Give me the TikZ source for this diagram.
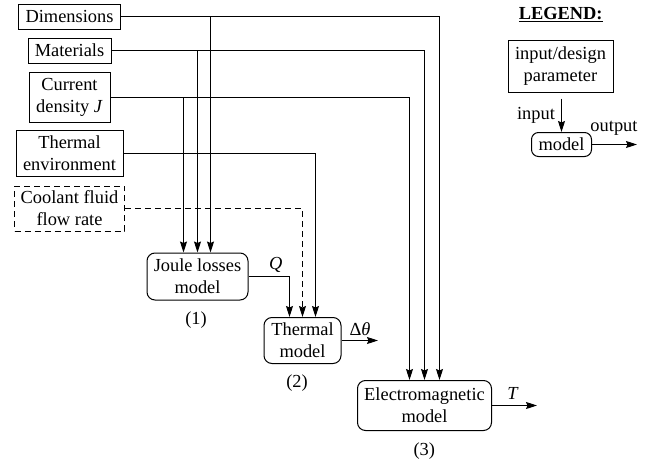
\documentclass[tikz,border=0pt]{standalone}
\usepackage{fontspec}
\setmainfont{Liberation Serif}
\usetikzlibrary{arrows.meta}
\begin{document}
\begin{tikzpicture}[x=1pt,y=-1pt,
  font=\fontsize{18.4}{22}\selectfont,
  line width=1pt,
  param/.style={draw, inner sep=0pt, align=center},
  coolbox/.style={param, dashed, dash pattern=on 6pt off 4pt},
  modelbox/.style={draw, rounded corners=8pt, inner sep=0pt, align=center},
  flow/.style={-{Stealth[length=11pt,width=7pt,inset=1.5pt]}},
  dflow/.style={flow, dash pattern=on 6pt off 4pt},
  lbl/.style={inner sep=0pt}]
\useasboundingbox (0,0) rectangle (656,463);

% input / design parameters
\node[param, minimum width=102pt, minimum height=25pt] (dim) at (69.5,16.5) {Dimensions};
\node[param, minimum width=83pt, minimum height=25pt] (mat) at (69.5,50.5) {Materials};
\node[param, minimum width=81pt, minimum height=50pt] (cur) at (69.5,97.5) {Current\\density \textit{J}};
\node[param, minimum width=107pt, minimum height=46pt] (env) at (69.5,153.5) {Thermal\\environment};
\node[coolbox, minimum width=110pt, minimum height=45pt] (coo) at (69.5,208.5) {Coolant fluid\\flow rate};

% models
\node[modelbox, minimum width=101pt, minimum height=47pt] (joule) at (197.5,276.5) {Joule losses\\model};
\node[modelbox, minimum width=77pt, minimum height=46pt] (therm) at (302.5,340.5) {Thermal\\model};
\node[modelbox, minimum width=134pt, minimum height=50pt] (em) at (424.5,405.5) {Electromagnetic\\model};

% branch abscissae
\coordinate (xj1) at (183.5,0);
\coordinate (xj2) at (197.5,0);
\coordinate (xj3) at (210.5,0);
\coordinate (xt1) at (289.5,0);
\coordinate (xt2) at (302.5,0);
\coordinate (xt3) at (315.5,0);
\coordinate (xe1) at (409.5,0);
\coordinate (xe2) at (424.5,0);
\coordinate (xe3) at (439.5,0);

% parameters into the electromagnetic model
\draw[flow] (dim.east) -| (xe3 |- em.north);
\draw[flow] (mat.east) -| (xe2 |- em.north);
\draw[flow] (cur.east) -| (xe1 |- em.north);

% parameters into the Joule losses model
\draw[flow] (xj3 |- dim.east) -- (xj3 |- joule.north);
\draw[flow] (xj2 |- mat.east) -- (xj2 |- joule.north);
\draw[flow] (xj1 |- cur.east) -- (xj1 |- joule.north);

% inputs of the thermal model
\draw[flow] (env.east) -| (xt3 |- therm.north);
\draw[dflow] (coo.east) -| (xt2 |- therm.north);
\draw[flow] (joule.east) -| (xt1 |- therm.north);

% outputs
\coordinate (thout) at (378,340.5);
\coordinate (emout) at (537,405.5);
\draw[flow] (therm.east) -- (thout);
\draw[flow] (em.east) -- (emout);

\node[lbl] (lq) at (275.7,265) {\textit{Q}};
\node[lbl] (ldt) at (360,329) {Δ\textit{θ}};
\node[lbl] (lt) at (513,393) {\textit{T}};
\node[lbl] (n1) at (196,320) {(1)};
\node[lbl] (n2) at (297,383) {(2)};
\node[lbl] (n3) at (424.3,450.7) {(3)};

% legend
\node[lbl] (leg) at (560.7,15) {\underline{\textbf{LEGEND:}}};
\node[param, minimum width=105pt, minimum height=52pt] (lpar) at (560.5,66.5) {input/design\\parameter};
\node[modelbox, minimum width=60pt, minimum height=24pt, rounded corners=7pt] (lmod) at (561.5,144.5) {model};
\coordinate (lout) at (637,144.5);
\draw[flow] (lmod.north |- 0,98.5) -- (lmod.north);
\draw[flow] (lmod.east) -- (lout);
\node[lbl] (lin) at (536,115) {input};
\node[lbl] (lo) at (614,128.3) {output};
\end{tikzpicture}
\end{document}
